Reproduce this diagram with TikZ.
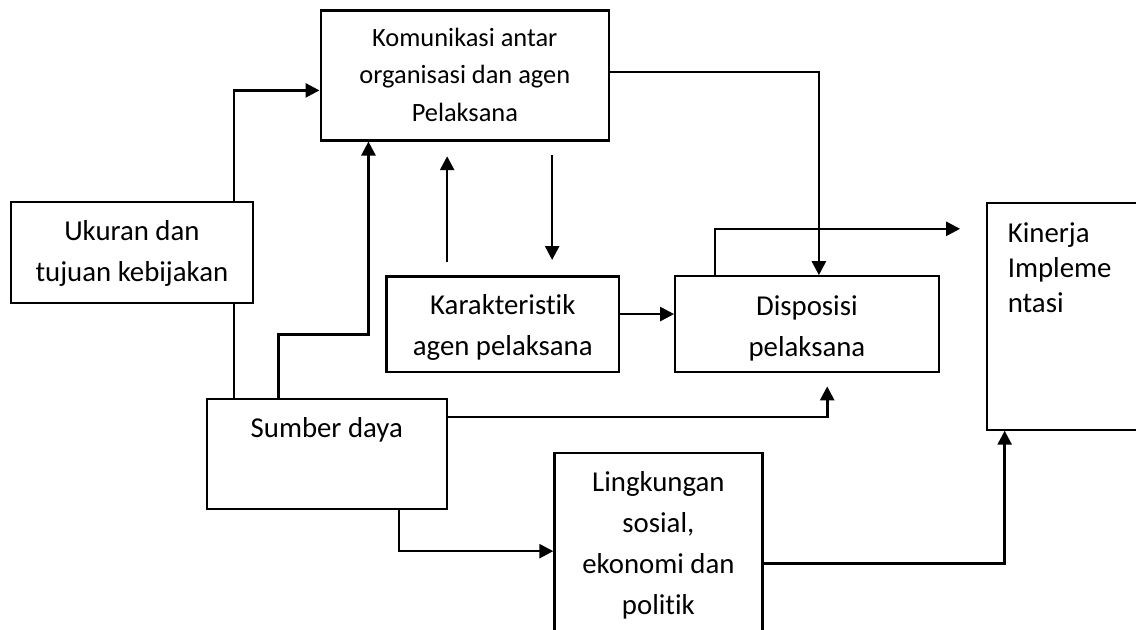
\documentclass[tikz,border=0pt]{standalone}
\usepackage{fontspec}
\setmainfont{Carlito}[Ligatures=NoCommon]
\usetikzlibrary{arrows.meta,positioning}
\tikzset{
  flowBox/.style={draw, line width=1.1pt, inner sep=0pt, align=center, font=\fontsize{14.4}{20.5}\selectfont},
  flowArrow/.style={-{Triangle[length=7pt,width=7pt]}, line width=1.3pt},
  flowLine/.style={line width=1.1pt}
}

\begin{document}
\begin{tikzpicture}[x=0.5pt, y=-0.5pt]
  \useasboundingbox (0,0) rectangle (1136,629);
  \clip (0,0) rectangle (1136,629);

  \node[flowBox, anchor=north west, minimum width=144.25pt, text height=55.35pt, text depth=9.65pt, font=\fontsize{13.2}{18.75}\selectfont] (komunikasi) at (319.5,9.3) {Komunikasi antar\\ organisasi dan agen\\ Pelaksana};
  \node[flowBox, anchor=north west, minimum width=121.2pt, text height=39.5pt, text depth=11pt] (ukuran) at (9.6,201) {Ukuran dan\\ tujuan kebijakan};
  \node[flowBox, anchor=north west, minimum width=116.25pt, text height=39.35pt, text depth=8.5pt] (karakter) at (385.4,275.3) {Karakteristik\\ agen pelaksana};
  \node[flowBox, right=27pt of karakter, minimum width=131.7pt, text height=40pt, text depth=8pt] (dispo) {Disposisi\\ pelaksana};
  \node[flowBox, anchor=north west, minimum width=120.15pt, text height=19.5pt, text depth=35.5pt] (sumber) at (205.5,397.7) {Sumber daya};
  \node[flowBox, anchor=north west, minimum width=104pt, text height=80.65pt, text depth=18.5pt] (lingkungan) at (553.3,451.7) {Lingkungan\\ sosial,\\ ekonomi dan\\ politik};
  \node[flowBox, anchor=north west, align=left, inner xsep=10.6pt, text width=61.05pt, text height=19.75pt, text depth=93.75pt, font=\fontsize{14.4}{17.5}\selectfont] (kinerja) at (985.5,201.5) {Kinerja\\ Impleme\\ ntasi};

  % ukuran dan tujuan
  \draw[flowArrow] ([xshift=50.95pt]ukuran.north) |- ([yshift=-7.5pt]komunikasi.west);
  \coordinate (ub) at ([xshift=50.85pt]ukuran.south);
  \draw[flowLine] (ub) -- (ub |- sumber.north);

  % sumber daya
  \draw[flowArrow] ([xshift=-24.1pt]sumber.north) -- ++(0,-63) -| ([xshift=-48.2pt]komunikasi.south);
  \draw[flowArrow, shorten >=6.5pt] ([yshift=-9.65pt]sumber.north east) -| ([xshift=10.15pt]dispo.south);
  \draw[flowArrow] ([xshift=36.2pt]sumber.south) |- ([yshift=0.4pt]lingkungan.west);

  % komunikasi <-> karakteristik
  \coordinate (kup) at ([xshift=-27.8pt]karakter.north);
  \coordinate (kdown) at ([xshift=24.7pt]karakter.north);
  \draw[flowArrow, shorten <=6.65pt, shorten >=7.35pt] (kup) -- (kup |- komunikasi.south);
  \draw[flowArrow, shorten <=6.7pt, shorten >=7.65pt] (kdown |- komunikasi.south) -- (kdown);

  \draw[flowArrow] ([yshift=1.65pt]komunikasi.east) -| ([xshift=6pt]dispo.north);
  \draw[flowArrow] ([yshift=5.1pt]karakter.east) -- ([yshift=5.1pt]dispo.west);

  % ke kinerja
  \draw[flowArrow, shorten >=12.7pt] ([xshift=-45.9pt]dispo.north) |- ([yshift=43.65pt]kinerja.west);
  \draw[flowArrow] ([yshift=-5.9pt]lingkungan.east) -| ([xshift=-32.1pt]kinerja.south);
\end{tikzpicture}
\end{document}
